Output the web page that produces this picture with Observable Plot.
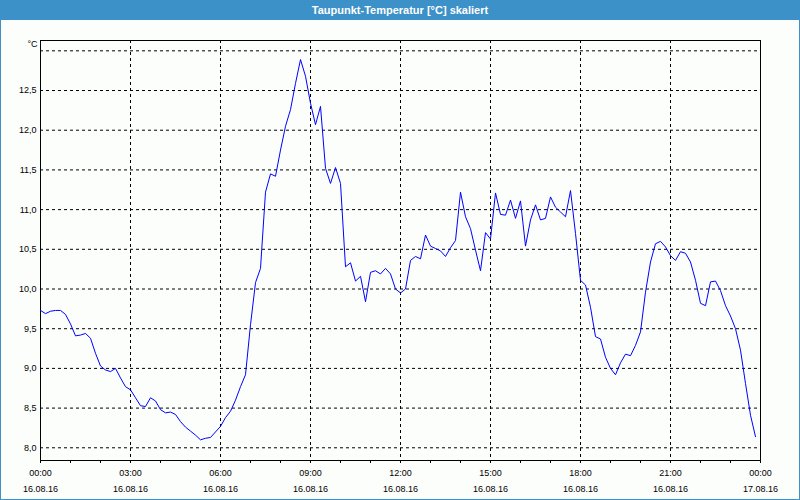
<!DOCTYPE html>
<html>
<head>
<meta charset="utf-8">
<script src="https://cdn.jsdelivr.net/npm/d3@7"></script>
<script src="https://cdn.jsdelivr.net/npm/@observablehq/plot@0.6"></script>
<style>
  html, body { margin: 0; padding: 0; background: #ffffff; }
  #win { position: relative; width: 800px; height: 500px; background: #fcfefc; overflow: hidden; font-family: "Liberation Sans", Arial, sans-serif; }
  #title { position: absolute; left: 0; top: 0; width: 800px; height: 20px; background: #3c91c8; color: #ffffff; font: bold 11px "Liberation Sans", Arial, sans-serif; text-align: center; line-height: 20px; }
  #chart { position: absolute; left: 0; top: 20px; }
  #border { position: absolute; left: 0; top: 20px; width: 800px; height: 480px; box-sizing: border-box; border: 1px solid #3c91c8; border-top: none; pointer-events: none; }
</style>
</head>
<body>
<div id="win">
  <div id="title">Taupunkt-Temperatur [°C] skaliert</div>
  <div id="chart"></div>
  <div id="border"></div>
</div>
<script>
// Sampling: every 10 minutes from 16.08.16 00:00 to 23:50
const startTime = Date.UTC(2016, 7, 16, 0, 0);
const endTime = Date.UTC(2016, 7, 17, 0, 0);
const stepMinutes = 10;

const dewPoint = [
  9.73, 9.69, 9.72, 9.73, 9.73, 9.68, 9.56, 9.41, 9.42, 9.44, 9.38, 9.19,
  9.03, 8.98, 8.96, 9.00, 8.88, 8.77, 8.73, 8.63, 8.53, 8.52, 8.63, 8.59,
  8.48, 8.44, 8.45, 8.42, 8.33, 8.26, 8.21, 8.16, 8.10, 8.12, 8.13, 8.20,
  8.27, 8.38, 8.46, 8.60, 8.77, 8.92, 9.55, 10.08, 10.26, 11.22, 11.45, 11.42,
  11.75, 12.05, 12.26, 12.59, 12.89, 12.68, 12.34, 12.07, 12.30, 11.52, 11.33, 11.53,
  11.33, 10.28, 10.33, 10.10, 10.16, 9.84, 10.21, 10.23, 10.19, 10.26, 10.19, 10.00,
  9.95, 10.00, 10.36, 10.41, 10.38, 10.68, 10.54, 10.51, 10.48, 10.41, 10.52, 10.61,
  11.22, 10.91, 10.76, 10.49, 10.23, 10.71, 10.63, 11.21, 10.94, 10.93, 11.12, 10.89,
  11.11, 10.54, 10.87, 11.06, 10.87, 10.89, 11.16, 11.03, 10.97, 10.91, 11.24, 10.70,
  10.11, 10.05, 9.77, 9.40, 9.37, 9.14, 9.00, 8.92, 9.07, 9.18, 9.16, 9.29,
  9.46, 9.96, 10.34, 10.57, 10.60, 10.53, 10.42, 10.36, 10.47, 10.45, 10.34, 10.11,
  9.82, 9.79, 10.09, 10.10, 9.98, 9.79, 9.66, 9.50, 9.23, 8.81, 8.41, 8.14
];

const yTicks = [8.0, 8.5, 9.0, 9.5, 10.0, 10.5, 11.0, 11.5, 12.0, 12.5];
const yGrid = [8.0, 8.5, 9.0, 9.5, 10.0, 10.5, 11.0, 11.5, 12.0, 12.5, 13.0];
const yDomain = [7.84, 13.13];
const unitLabel = "°C";

const data = dewPoint.map((v, i) => ({ t: new Date(startTime + i * stepMinutes * 60000), v }));
const majorTicks = d3.utcHour.every(3).range(new Date(startTime), new Date(endTime + 1));
const minorTicks = d3.utcHour.every(1).range(new Date(startTime), new Date(endTime + 1));

const fmtY = d => d3.format(".1f")(d).replace(".", ",");
const fmtTime = d3.utcFormat("%H:%M");
const fmtDate = d3.utcFormat("%d.%m.%y");

const chart = Plot.plot({
  width: 800,
  height: 480,
  marginTop: 20,
  marginBottom: 40,
  marginLeft: 40,
  marginRight: 40,
  style: { background: "transparent", fontFamily: "'Liberation Sans', Arial, sans-serif", fontSize: "9px", color: "#000" },
  x: { type: "utc", domain: [new Date(startTime), new Date(endTime)] },
  y: { domain: yDomain },
  marks: [
    Plot.ruleY(yGrid, { stroke: "#000", strokeDasharray: "3,3", strokeWidth: 1 }),
    Plot.ruleX(majorTicks, { stroke: "#000", strokeDasharray: "3,3", strokeWidth: 1 }),
    Plot.frame({ stroke: "#000", strokeWidth: 1 }),
    Plot.axisY({ ticks: yTicks, tickFormat: fmtY, tickSize: 0, tickPadding: 4, label: null, fontSize: 9 }),
    Plot.axisX({ ticks: minorTicks, tickFormat: () => "", tickSize: 3, label: null }),
    Plot.axisX({ ticks: majorTicks, tickFormat: fmtTime, tickSize: 0, tickPadding: 9, label: null, fontSize: 9 }),
    Plot.axisX({ ticks: majorTicks, tickFormat: fmtDate, tickSize: 0, tickPadding: 25, label: null, fontSize: 9 }),
    Plot.text([unitLabel], { frameAnchor: "top-left", text: d => d, textAnchor: "end", lineAnchor: "middle", dx: -3, dy: 4, fontSize: 9, fill: "#000" }),
    Plot.line(data, { x: "t", y: "v", stroke: "#0000ff", strokeWidth: 1 })
  ]
});
document.getElementById("chart").appendChild(chart);
</script>
</body>
</html>
